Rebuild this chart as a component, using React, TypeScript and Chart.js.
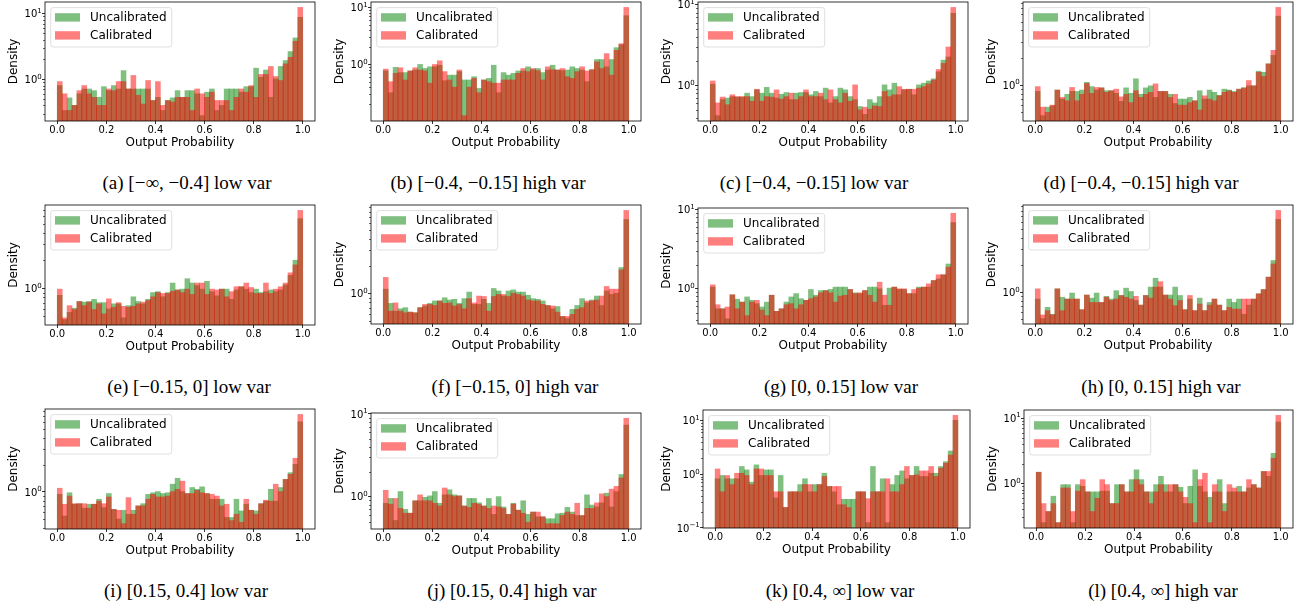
import React, { useEffect, useRef } from "react";
import { Chart, registerables } from "chart.js";
Chart.register(...registerables);

// ---------- data ----------
const BIN_CENTERS = [
  0.01, 0.03, 0.05, 0.07, 0.09, 0.11, 0.13, 0.15, 0.17, 0.19,
  0.21, 0.23, 0.25, 0.27, 0.29, 0.31, 0.33, 0.35, 0.37, 0.39,
  0.41, 0.43, 0.45, 0.47, 0.49, 0.51, 0.53, 0.55, 0.57, 0.59,
  0.61, 0.63, 0.65, 0.67, 0.69, 0.71, 0.73, 0.75, 0.77, 0.79,
  0.81, 0.83, 0.85, 0.87, 0.89, 0.91, 0.93, 0.95, 0.97, 0.99,
];
const X_TICKS = [0, 0.2, 0.4, 0.6, 0.8, 1.0];
const SERIES_LABELS = ["Uncalibrated", "Calibrated"];

const A_UNCAL = [0.80,0.335,0.52,0.40,0.60,0.71,0.71,0.67,0.53,0.77, 0.67,0.80,0.71,1.35,0.71,0.71,0.71,0.71,0.71,0.475, 0.53,0.335,0.475,0.52,0.67,0.53,0.67,0.67,0.60,0.28, 0.635,0.71,0.335,0.40,0.71,0.71,0.71,0.635,0.77,0.77, 1.47,1.07,1.38,0.53,1.01,1.56,1.92,2.63,4.23,8.7];
const A_CAL = [0.92,0.60,0.335,0.40,0.67,0.80,0.60,0.53,0.40,0.40, 0.71,0.67,0.92,0.92,0.71,1.14,0.57,0.42,0.955,0.475, 0.92,0.40,0.475,0.45,0.53,0.53,0.53,0.335,0.71,0.60, 0.53,0.635,0.475,0.475,0.475,0.335,0.53,0.71,0.635,0.80, 0.53,1.18,1.18,1.56,1.10,0.955,1.71,2.15,3.77,12.3];

const B_UNCAL = [0.77,0.32,0.89,0.72,0.72,0.77,0.80,1.0,0.85,0.91, 0.91,0.97,0.52,0.65,0.65,0.75,0.535,0.535,0.61,0.38, 0.535,0.57,0.97,0.32,0.72,0.65,0.70,0.77,0.77,0.91, 0.81,0.85,0.72,0.80,0.97,0.80,0.78,0.80,0.91,0.85, 0.80,0.50,0.81,1.22,1.22,0.91,1.22,1.97,2.22,7.17];
const B_CAL = [0.83,0.50,0.70,0.875,0.535,0.77,0.875,0.80,0.77,0.47, 1.0,1.16,0.75,0.535,0.40,0.80,0.127,0.40,0.57,0.32, 0.535,0.50,0.47,0.47,0.535,0.535,0.535,0.70,0.85,0.75, 0.85,0.78,0.535,0.91,0.81,0.80,0.85,0.61,0.57,0.75, 0.91,0.77,0.81,1.11,0.85,1.55,0.65,1.77,2.31,10.0];

const C_UNCAL = [1.04,0.425,0.67,0.70,0.73,0.72,0.72,0.805,0.73,0.885, 0.805,0.95,0.805,0.70,0.78,0.82,0.67,0.805,0.82,0.82, 0.77,0.845,0.73,0.93,0.61,0.73,0.93,0.885,0.73,0.67, 0.55,0.44,0.67,0.61,0.73,1.02,0.885,1.07,0.77,0.885, 0.90,0.77,1.02,1.07,1.14,1.21,1.48,2.06,2.26,7.83];
const C_CAL = [1.14,0.61,0.72,0.58,0.77,0.73,0.73,0.73,0.64,0.90, 0.64,0.73,0.72,0.885,0.68,0.73,0.805,0.67,0.73,0.885, 0.73,0.73,0.805,0.67,0.885,0.67,0.61,0.805,0.64,1.02, 0.50,0.54,0.51,0.56,0.55,0.845,0.73,0.77,0.97,0.90, 0.90,0.90,0.93,0.97,1.05,1.17,1.58,1.88,3.0,9.27];

const D_UNCAL = [0.85,0.46,0.57,0.59,0.88,0.70,0.79,0.85,0.85,0.88, 1.07,0.96,0.88,0.93,0.865,0.865,0.81,0.66,0.93,0.81, 1.17,0.79,0.93,0.98,0.73,0.85,0.85,0.79,0.625,0.70, 0.70,0.73,0.67,0.865,0.70,0.88,0.83,0.77,0.90,0.88, 0.85,0.90,0.93,0.98,0.98,1.42,1.38,1.71,2.12,5.74];
const D_CAL = [0.96,0.57,0.50,0.60,0.88,0.73,0.67,0.94,0.67,0.79, 1.04,0.81,0.94,0.93,0.83,0.865,0.90,0.74,0.79,0.64, 0.865,0.73,0.79,0.83,1.03,0.85,0.85,0.73,0.79,0.60, 0.60,0.64,0.67,0.53,0.76,0.70,0.67,0.76,0.83,0.865, 0.83,0.90,0.93,1.12,0.98,1.38,1.24,1.71,2.41,7.17];

const E_UNCAL = [0.84,0.46,0.55,0.61,0.72,0.71,0.72,0.76,0.70,0.70, 0.60,0.68,0.68,0.48,0.65,0.81,0.72,0.68,0.76,0.90, 0.92,0.81,0.90,1.14,0.96,0.98,1.27,1.14,1.07,0.98, 1.19,0.92,0.83,0.98,0.98,0.76,0.96,1.04,0.98,0.90, 0.98,0.90,0.92,0.96,0.92,0.96,1.09,1.38,2.01,5.65];
const E_CAL = [0.98,0.48,0.65,0.59,0.72,0.65,0.71,0.59,0.68,0.53, 0.77,0.625,0.70,0.64,0.625,0.64,0.68,0.71,0.74,0.81, 0.90,0.88,0.88,0.93,0.96,0.90,0.98,0.86,1.14,1.14, 0.86,0.98,0.96,0.98,0.81,0.92,1.04,1.04,1.14,1.02, 0.88,0.88,1.14,0.88,0.98,1.04,1.14,1.47,1.79,6.93];

const F_UNCAL = [1.12,0.78,0.64,0.68,0.70,0.625,0.615,0.70,0.73,0.78, 0.83,0.83,0.90,0.85,0.865,0.78,0.88,1.04,0.76,0.76, 0.865,0.78,1.14,1.07,0.94,1.07,1.10,1.04,1.04,0.96, 0.88,0.865,0.83,0.74,0.68,0.72,0.56,0.53,0.67,0.74, 0.88,0.79,0.85,0.94,0.74,1.07,0.98,1.01,1.94,6.58];
const F_CAL = [1.51,0.64,0.79,0.64,0.615,0.625,0.615,0.70,0.76,0.76, 0.74,0.83,0.78,0.79,0.73,0.76,0.68,0.88,0.79,0.94, 0.93,0.64,0.93,0.98,0.98,0.93,1.01,0.98,0.94,0.85, 0.83,0.83,0.76,0.74,0.73,0.625,0.56,0.56,0.59,0.67, 0.70,0.83,0.83,0.85,0.94,1.20,1.12,1.12,1.83,8.29];

const G_UNCAL = [1.05,0.56,0.56,0.42,0.84,0.74,0.68,0.79,0.715,0.65, 0.59,0.68,0.83,0.52,0.56,0.68,0.79,0.87,0.75,0.715, 0.98,0.83,0.95,0.95,0.98,1.05,1.05,1.05,0.98,0.89, 0.87,0.95,1.05,1.05,1.0,0.62,1.02,1.05,0.98,0.98, 0.87,0.87,1.05,1.05,1.05,1.27,1.33,1.50,2.05,6.81];
const G_CAL = [1.12,0.63,0.56,0.59,0.84,0.56,0.68,0.46,0.68,0.715, 0.54,0.46,0.83,0.52,0.56,0.63,0.65,0.56,0.63,0.715, 0.75,0.79,0.89,0.95,0.89,0.68,0.81,0.83,0.98,0.87, 0.89,0.95,0.83,0.68,1.21,0.83,0.62,1.05,1.0,1.0, 0.87,0.98,1.02,1.05,1.155,1.27,1.50,1.50,1.87,8.91];

const H_UNCAL = [0.84,0.51,0.68,0.57,1.09,0.88,0.84,0.98,0.84,0.64, 0.93,0.86,0.98,0.77,0.90,0.84,1.04,0.92,1.11,1.02, 0.81,0.72,0.92,1.14,1.43,1.14,0.93,0.93,1.14,0.92, 0.64,0.84,0.625,0.86,0.625,0.77,0.84,0.72,0.625,0.84, 0.77,0.84,0.57,0.72,0.84,0.96,1.07,1.47,2.25,6.42];
const H_CAL = [1.09,0.56,0.625,0.56,1.09,0.625,0.84,0.84,0.84,0.64, 0.93,0.77,0.77,0.77,0.88,0.81,0.84,0.92,0.88,0.84, 0.90,0.72,0.92,0.86,1.14,1.31,0.93,0.84,0.71,0.81, 0.64,0.92,0.625,0.74,0.625,0.72,0.84,0.72,0.625,0.68, 0.65,0.65,0.84,0.84,0.84,0.96,1.07,1.47,2.06,8.08];

const I_UNCAL = [0.94,0.54,0.98,0.73,0.74,0.66,0.73,0.73,0.83,0.67, 0.96,0.64,0.50,0.625,0.565,0.625,0.70,0.74,0.94,0.98, 1.01,0.96,0.98,1.22,1.42,1.01,0.96,1.12,1.07,1.14, 0.96,0.83,0.83,0.83,0.52,0.52,0.83,0.615,0.73,0.625, 0.615,0.74,0.79,1.07,0.79,1.12,1.38,1.64,2.03,6.04];
const I_CAL = [1.10,0.73,0.90,0.74,0.74,0.74,0.66,0.73,0.79,0.74, 0.88,0.64,0.625,0.445,0.865,0.565,0.70,0.70,0.83,0.94, 0.88,0.88,0.90,1.01,1.07,1.32,0.96,0.96,1.04,0.98, 0.96,0.94,0.90,0.70,0.73,0.48,0.565,0.46,0.83,0.625, 0.565,0.74,0.81,0.79,1.22,1.01,1.38,1.57,2.37,7.29];

const J_UNCAL = [0.83,0.95,0.515,1.15,0.70,0.63,0.89,0.89,0.98,1.02, 1.15,0.83,1.05,1.21,1.05,1.02,0.77,0.95,0.95,0.84, 0.77,0.95,0.61,1.0,0.75,0.61,0.83,0.685,0.89,0.61, 0.65,0.57,0.57,0.54,0.54,0.62,0.63,0.74,0.65,0.59, 0.59,1.05,0.79,0.75,0.84,1.10,0.75,1.15,1.85,7.31];
const J_CAL = [1.19,0.81,0.95,0.72,0.63,0.63,0.89,1.05,0.89,0.89, 0.83,0.77,1.27,1.05,1.0,1.02,0.77,0.74,0.83,0.81, 0.77,0.72,0.77,0.75,0.72,0.61,0.81,0.685,0.63,0.49, 0.65,0.65,0.57,0.47,0.47,0.47,0.59,0.65,0.61,0.83, 0.59,0.72,0.72,0.84,1.08,1.0,1.23,1.33,1.68,8.84];

const K_UNCAL = [0.82,0.945,0.82,0.82,0.82,1.39,1.20,0.71,1.49,0.945, 1.20,1.20,0.36,0.945,0.24,0.47,0.47,0.64,0.82,0.47, 0.64,0.64,1.04,0.59,0.47,0.27,0.34,0.34,0.34,0.47, 0.47,0.125,1.39,0.47,0.82,0.125,0.64,0.945,1.15,0.82, 0.945,1.39,0.905,0.905,1.04,1.04,1.39,1.71,2.70,10.07];
const K_CAL = [1.25,0.47,0.945,0.64,1.04,1.04,0.945,0.64,1.25,1.25, 0.945,0.945,0.47,0.47,0.24,0.47,0.47,0.47,0.64,0.64, 0.47,0.64,0.905,0.59,0.59,0.59,0.27,0.24,0,0.47, 0.47,0.35,0.47,0.47,0.47,0.82,0.47,0.47,0.64,1.39, 0.945,0.97,1.15,1.15,1.39,0.905,1.29,1.60,2.27,12.45];

const L_UNCAL = [1.48,0.25,0.37,0.635,0.25,0.955,0.955,0.25,0.955,0.90, 0.74,0.74,0.74,0.76,0.76,0.49,0.955,0.955,0.74,1.14, 1.61,1.14,0.74,0.74,0.955,1.28,0.955,0.74,0.955,0.87, 0.49,0.90,1.61,0.90,0.74,0.61,0.74,1.14,0.49,0.74, 0.74,0.90,0.74,0.85,0.955,0.85,1.52,1.28,2.88,8.7];
const L_CAL = [1.48,0.49,0.37,0.49,0.25,0.85,0.85,0.37,0.76,1.14, 0.74,0.37,0.59,1.14,0.955,0.49,0.49,0.955,0.74,0.74, 1.14,0.955,0.74,0.49,0.74,0.955,0.74,0.955,0.955,0.74, 0.61,0.49,0.25,1.14,1.43,0.25,0.955,0.74,0.37,0.955, 0.85,0.74,0.74,1.14,0.955,0.85,1.52,1.52,2.42,11.0];

const CAPTIONS = [
  "(a) [\u2212\u221E, \u22120.4] low var",
  "(b) [\u22120.4, \u22120.15] high var",
  "(c) [\u22120.4, \u22120.15] low var",
  "(d) [\u22120.4, \u22120.15] high var",
  "(e) [\u22120.15, 0] low var",
  "(f) [\u22120.15, 0] high var",
  "(g) [0, 0.15] low var",
  "(h) [0, 0.15] high var",
  "(i) [0.15, 0.4] low var",
  "(j) [0.15, 0.4] high var",
  "(k) [0.4, \u221E] low var",
  "(l) [0.4, \u221E] high var",
];
const SERIES = [
  [A_UNCAL, A_CAL], [B_UNCAL, B_CAL], [C_UNCAL, C_CAL], [D_UNCAL, D_CAL],
  [E_UNCAL, E_CAL], [F_UNCAL, F_CAL], [G_UNCAL, G_CAL], [H_UNCAL, H_CAL],
  [I_UNCAL, I_CAL], [J_UNCAL, J_CAL], [K_UNCAL, K_CAL], [L_UNCAL, L_CAL],
];

// ---------- layout (plot rectangles in page px) ----------
const PLOT_BOXES: [number, number, number, number][] = [
  [45, 2, 315, 121], [371, 2, 641, 121], [698, 2, 968, 121], [1023, 2, 1293, 121],
  [45, 205, 315, 325], [371, 205, 641, 324], [698, 208, 968, 324], [1023, 205, 1293, 324],
  [45, 409, 315, 529], [371, 413, 641, 529], [703, 410, 970, 528], [1024, 410, 1293, 528],
];
const LEFT_MARGINS = [40, 40, 40, 40, 40, 40, 40, 40, 40, 40, 45, 40];
const CAPTION_POS: [number, number][] = [
  [187, 182], [488, 182], [814, 182], [1141, 182],
  [189, 386], [515, 386], [841, 386], [1161, 386],
  [186, 590], [512, 590], [840, 590], [1163, 590],
];

const T = 8, R = 6, B = 30;
const GREEN = "rgba(0,128,0,0.5)";
const RED = "rgba(255,0,0,0.5)";
const FONT = "'DejaVu Sans', sans-serif";

const decorPlugin = {
  id: "decor",
  afterDatasetsDraw(chart: any) {
    const { ctx, chartArea: a, scales } = chart;
    const y = scales.y;
    ctx.save();
    // minor ticks on log axis
    ctx.strokeStyle = "#000";
    ctx.lineWidth = 0.6;
    const k0 = Math.floor(Math.log10(y.min));
    const k1 = Math.ceil(Math.log10(y.max));
    for (let k = k0; k <= k1; k++) {
      for (let m = 2; m <= 9; m++) {
        const v = m * Math.pow(10, k);
        if (v < y.min || v > y.max) continue;
        const py = Math.round(y.getPixelForValue(v)) + 0.5;
        ctx.beginPath();
        ctx.moveTo(a.left, py);
        ctx.lineTo(a.left - 2, py);
        ctx.stroke();
      }
    }
    // y tick labels as 10^k with a real superscript
    ctx.fillStyle = "#000";
    ctx.textAlign = "left";
    ctx.textBaseline = "alphabetic";
    for (const t of y.ticks) {
      const v = t.value;
      const py = y.getPixelForValue(v);
      const e = Math.round(Math.log10(v));
      const exp = e < 0 ? "\u2212" + String(-e) : String(e);
      ctx.font = `7px ${FONT}`;
      const ew = ctx.measureText(exp).width;
      ctx.font = `10px ${FONT}`;
      const bw = ctx.measureText("10").width;
      const right = a.left - 3.3;
      ctx.fillText("10", right - ew - bw, py + 3.7);
      ctx.font = `7px ${FONT}`;
      ctx.fillText(exp, right - ew, py - 0.6);
    }
    // frame
    ctx.strokeStyle = "#000";
    ctx.lineWidth = 0.8;
    ctx.strokeRect(a.left, a.top, a.right - a.left, a.bottom - a.top);
    // legend
    const lx = a.left + 5.7, ly = a.top + 5.6, lw = 121, lh = 39.4;
    ctx.beginPath();
    (ctx as any).roundRect(lx, ly, lw, lh, 2.5);
    ctx.fillStyle = "rgba(255,255,255,0.8)";
    ctx.fill();
    ctx.strokeStyle = "rgba(204,204,204,0.8)";
    ctx.lineWidth = 0.8;
    ctx.stroke();
    const ds = chart.data.datasets;
    const rows = [ds.find((d: any) => d.label === SERIES_LABELS[0]), ds.find((d: any) => d.label === SERIES_LABELS[1])];
    rows.forEach((d: any, i: number) => {
      const cy = ly + 9.8 + i * 18;
      ctx.fillStyle = d.backgroundColor;
      ctx.fillRect(lx + 4.3, cy - 4.2, 25, 8.4);
      ctx.fillStyle = "#000";
      ctx.font = `12px ${FONT}`;
      ctx.textBaseline = "middle";
      ctx.textAlign = "left";
      ctx.fillText(d.label, lx + 39.3, cy + 0.5);
    });
    ctx.restore();
  },
};

function HistPanel({ idx }: { idx: number }) {
  const ref = useRef<HTMLCanvasElement>(null);
  const [x0, y0, x1, y1] = PLOT_BOXES[idx];
  const L = LEFT_MARGINS[idx];
  const width = x1 - x0 + L + R;
  const height = y1 - y0 + T + B;
  useEffect(() => {
    const [uncal, cal] = SERIES[idx];
    const all = [...uncal, ...cal].filter((v) => v > 0);
    const lmin = Math.log10(Math.min(...all));
    const lmax = Math.log10(Math.max(...all));
    const pad = 0.05 * (lmax - lmin);
    const ymin = Math.pow(10, lmin - pad);
    const ymax = Math.pow(10, lmax + pad);
    const majors: number[] = [];
    for (let k = Math.ceil(Math.log10(ymin)); k <= Math.floor(Math.log10(ymax)); k++) majors.push(Math.pow(10, k));

    const common = {
      grouped: false,
      barPercentage: 1,
      categoryPercentage: 1,
      borderWidth: 0,
    };
    const chart = new Chart(ref.current as HTMLCanvasElement, {
      type: "bar",
      data: {
        datasets: [
          { ...common, label: SERIES_LABELS[0], data: BIN_CENTERS.map((x, i) => ({ x, y: uncal[i] })), backgroundColor: GREEN, order: 1 } as any,
          { ...common, label: SERIES_LABELS[1], data: BIN_CENTERS.map((x, i) => ({ x, y: cal[i] })), backgroundColor: RED, order: 0 } as any,
        ],
      },
      options: {
        animation: false,
        responsive: false,
        devicePixelRatio: 1,
        layout: { padding: { left: 0, top: T, right: R, bottom: 0 } },
        plugins: { legend: { display: false }, tooltip: { enabled: false } },
        scales: {
          x: {
            type: "linear",
            min: -0.05,
            max: 1.05,
            offset: false,
            grid: { display: true, drawOnChartArea: false, drawTicks: true, tickLength: 3, tickColor: "#000", tickWidth: 0.8, offset: false },
            border: { display: false },
            ticks: {
              color: "#000",
              font: { family: FONT, size: 10 },
              padding: 0,
              maxRotation: 0,
              autoSkip: false,
              callback: (v: any) => Number(v).toFixed(1),
            },
            afterBuildTicks: (s: any) => { s.ticks = X_TICKS.map((v) => ({ value: v })); },
            afterFit: (s: any) => { s.height = B; },
            title: { display: true, text: "Output Probability", color: "#000", font: { family: FONT, size: 12 }, padding: { top: 0, bottom: 1.3 } },
          },
          y: {
            type: "logarithmic",
            min: ymin,
            max: ymax,
            grid: { display: true, drawOnChartArea: false, drawTicks: true, tickLength: 3, tickColor: "#000", tickWidth: 0.8 },
            border: { display: false },
            ticks: { display: false, autoSkip: false },
            afterBuildTicks: (s: any) => { s.ticks = majors.map((v) => ({ value: v })); },
            afterFit: (s: any) => { s.width = L; },
            title: { display: true, text: "Density", color: "#000", font: { family: FONT, size: 12 }, padding: { top: 1.8, bottom: 0 } },
          },
        },
      } as any,
      plugins: [decorPlugin],
    });
    return () => chart.destroy();
  }, [idx]);

  return (
    <canvas
      ref={ref}
      width={width}
      height={height}
      style={{ position: "absolute", left: x0 - L, top: y0 - T, width, height }}
    />
  );
}

export default function App() {
  return (
    <div style={{ position: "absolute", left: 0, top: 0, width: 1299, height: 609, overflow: "hidden", background: "#fff" }}>
      {PLOT_BOXES.map((_, i) => (
        <HistPanel key={i} idx={i} />
      ))}
      {CAPTIONS.map((c, i) => (
        <div
          key={"c" + i}
          style={{
            position: "absolute",
            left: CAPTION_POS[i][0],
            top: CAPTION_POS[i][1],
            transform: "translate(-50%, -50%)",
            whiteSpace: "nowrap",
            font: "19px 'Liberation Serif', serif",
            lineHeight: "1",
            color: "#000",
          }}
        >
          {c}
        </div>
      ))}
    </div>
  );
}
